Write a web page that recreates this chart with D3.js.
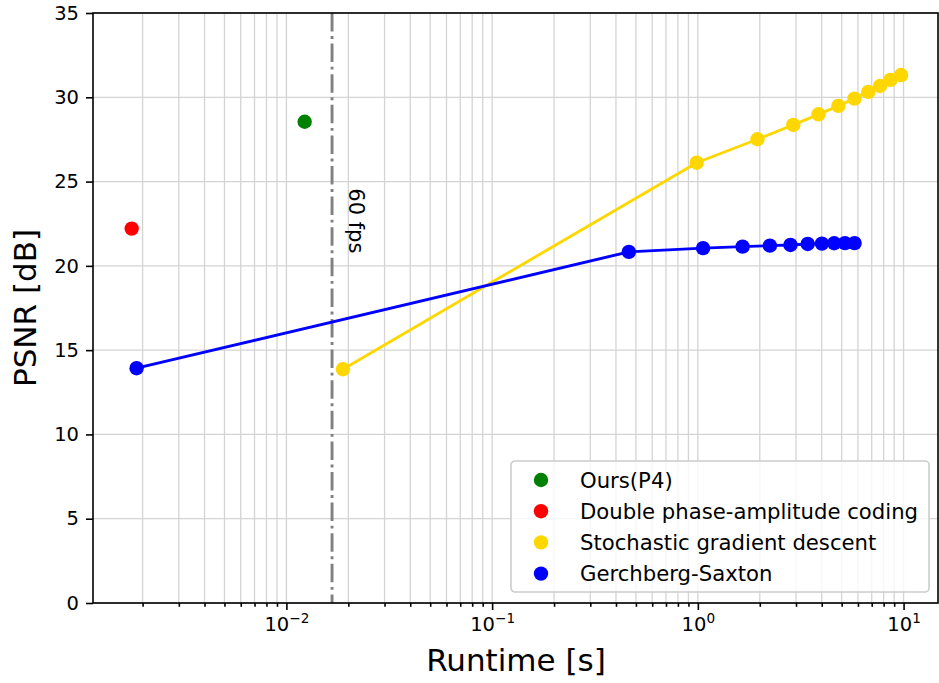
<!DOCTYPE html>
<meta charset="utf-8">
<style>
  body { margin: 0; background: #fff; }
  svg { display: block; font-family: "DejaVu Sans", sans-serif; }
  .grid line { stroke: #d4d4d4; stroke-width: 1.3px; }
  .axis path, .axis line { stroke: #000; stroke-width: 1.6px; }
  .axis text { font-size: 19.5px; fill: #000; font-family: "DejaVu Sans", sans-serif; }
</style>

<script src="https://d3js.org/d3.v7.min.js"></script>

<div id="chart"></div>

<script>
  // Runtime [s] / PSNR [dB]
  var oursX = [0.01227];
  var oursY = [28.55];

  var dpacX = [0.00177];
  var dpacY = [22.21];

  var sgdX = [0.01884, 0.987, 1.95, 2.91, 3.86, 4.82, 5.77, 6.74, 7.68, 8.63, 9.72];
  var sgdY = [13.87, 26.12, 27.51, 28.36, 28.99, 29.49, 29.92, 30.32, 30.67, 31.03, 31.32];

  var gsX = [0.00187, 0.462, 1.06, 1.65, 2.24, 2.82, 3.42, 4.01, 4.60, 5.19, 5.78];
  var gsY = [13.93, 20.83, 21.05, 21.14, 21.20, 21.24, 21.30, 21.32, 21.34, 21.35, 21.35];

  var fpsLine = 1 / 60;
  var yTicks = [0, 5, 10, 15, 20, 25, 30, 35];
  var xTicks = [1e-2, 1e-1, 1, 10];
  var xTickExp = ["\u22122", "\u22121", "0", "1"];

  var legendNames = ["Ours(P4)", "Double phase-amplitude coding", "Stochastic gradient descent", "Gerchberg-Saxton"];
  var legendColors = ["#008000", "#ff0000", "#ffd700", "#0000ff"];

  var width = 939, height = 683;
  var margin = { top: 13, right: 1, bottom: 80, left: 93 };
  var w = width - margin.left - margin.right;
  var h = height - margin.top - margin.bottom;

  var svg = d3.select("#chart").append("svg")
    .attr("width", width)
    .attr("height", height);

  var g = svg.append("g")
    .attr("transform", "translate(" + margin.left + "," + margin.top + ")");

  var x = d3.scaleLog().domain([1.148e-3, 14.7]).range([0, w]);
  var y = d3.scaleLinear().domain([0, 35]).range([h, 0]);

  // minor + major log ticks for the grid
  var minorTicks = [];
  for (var e = -3; e <= 1; e++) {
    for (var m = 1; m <= 9; m++) {
      var v = m * Math.pow(10, e);
      if (v >= x.domain()[0] && v <= x.domain()[1]) minorTicks.push(v);
    }
  }

  // grid
  var grid = g.append("g").attr("class", "grid");
  grid.selectAll(".gx").data(minorTicks).enter().append("line")
    .attr("x1", function(d) { return x(d); })
    .attr("x2", function(d) { return x(d); })
    .attr("y1", 0).attr("y2", h);
  grid.selectAll(".gy").data(yTicks).enter().append("line")
    .attr("x1", 0).attr("x2", w)
    .attr("y1", function(d) { return y(d); })
    .attr("y2", function(d) { return y(d); });

  // 60 fps line
  g.append("line")
    .attr("x1", x(fpsLine)).attr("x2", x(fpsLine))
    .attr("y1", 0).attr("y2", h)
    .attr("stroke", "#808080")
    .attr("stroke-width", 2.9)
    .attr("stroke-dasharray", "18.5,4.6,2.9,4.6");

  g.append("text")
    .attr("transform", "translate(" + (x(fpsLine) + 17) + "," + (y(24.6)) + ") rotate(90)")
    .attr("font-size", "21px")
    .text("60 fps");

  // series lines
  var line = d3.line()
    .x(function(d) { return x(d[0]); })
    .y(function(d) { return y(d[1]); });

  function series(xs, ys, color) {
    var pts = xs.map(function(d, i) { return [d, ys[i]]; });
    if (pts.length > 1) {
      g.append("path")
        .datum(pts)
        .attr("fill", "none")
        .attr("stroke", color)
        .attr("stroke-width", 2.9)
        .attr("d", line);
    }
    g.selectAll(null).data(pts).enter().append("circle")
      .attr("cx", function(d) { return x(d[0]); })
      .attr("cy", function(d) { return y(d[1]); })
      .attr("r", 7.2)
      .attr("fill", color);
  }

  series(oursX, oursY, legendColors[0]);
  series(dpacX, dpacY, legendColors[1]);
  series(sgdX, sgdY, legendColors[2]);
  series(gsX, gsY, legendColors[3]);

  // axes
  var yAxis = d3.axisLeft(y).tickValues(yTicks).tickSize(7).tickPadding(7);
  g.append("g").attr("class", "axis").call(yAxis)
    .call(function(s) { s.select(".domain").remove(); });

  var xAxisMinor = d3.axisBottom(x).tickValues(minorTicks.filter(function(d) {
      return xTicks.indexOf(d) < 0; }))
    .tickSize(3.8).tickFormat("");
  g.append("g").attr("class", "axis").attr("transform", "translate(0," + h + ")")
    .call(xAxisMinor)
    .call(function(s) { s.select(".domain").remove(); });

  var xAxis = d3.axisBottom(x).tickValues(xTicks).tickSize(7).tickPadding(7).tickFormat("");
  var xa = g.append("g").attr("class", "axis").attr("transform", "translate(0," + h + ")")
    .call(xAxis)
    .call(function(s) { s.select(".domain").remove(); });
  xa.selectAll(".tick text").each(function(d, i) {
    var t = d3.select(this);
    t.append("tspan").text("10");
    t.append("tspan").attr("font-size", "13.6px").attr("dy", "-8").text(xTickExp[i]);
  });

  // spines
  g.append("rect")
    .attr("width", w).attr("height", h)
    .attr("fill", "none").attr("stroke", "#000").attr("stroke-width", 1.6);

  // axis labels
  svg.append("text")
    .attr("x", 516)
    .attr("y", 671)
    .attr("text-anchor", "middle")
    .attr("font-size", "31px")
    .text("Runtime [s]");

  svg.append("text")
    .attr("transform", "translate(36," + (margin.top + h / 2) + ") rotate(-90)")
    .attr("text-anchor", "middle")
    .attr("font-size", "31px")
    .text("PSNR [dB]");

  // legend
  var lg = g.append("g").attr("transform", "translate(" + (511 - margin.left) + "," + (461 - margin.top) + ")");
  lg.append("rect")
    .attr("width", 418).attr("height", 131)
    .attr("rx", 4)
    .attr("fill", "#fff").attr("fill-opacity", 0.8)
    .attr("stroke", "#cccccc").attr("stroke-width", 1.6);
  var row = lg.selectAll(".row").data(legendNames).enter().append("g")
    .attr("transform", function(d, i) { return "translate(0," + (19 + i * 31.2) + ")"; });
  row.append("circle").attr("cx", 30).attr("r", 7.2)
    .attr("fill", function(d, i) { return legendColors[i]; });
  row.append("text").attr("x", 69).attr("dy", "0.36em")
    .attr("font-size", "21.2px")
    .text(function(d) { return d; });
</script>
